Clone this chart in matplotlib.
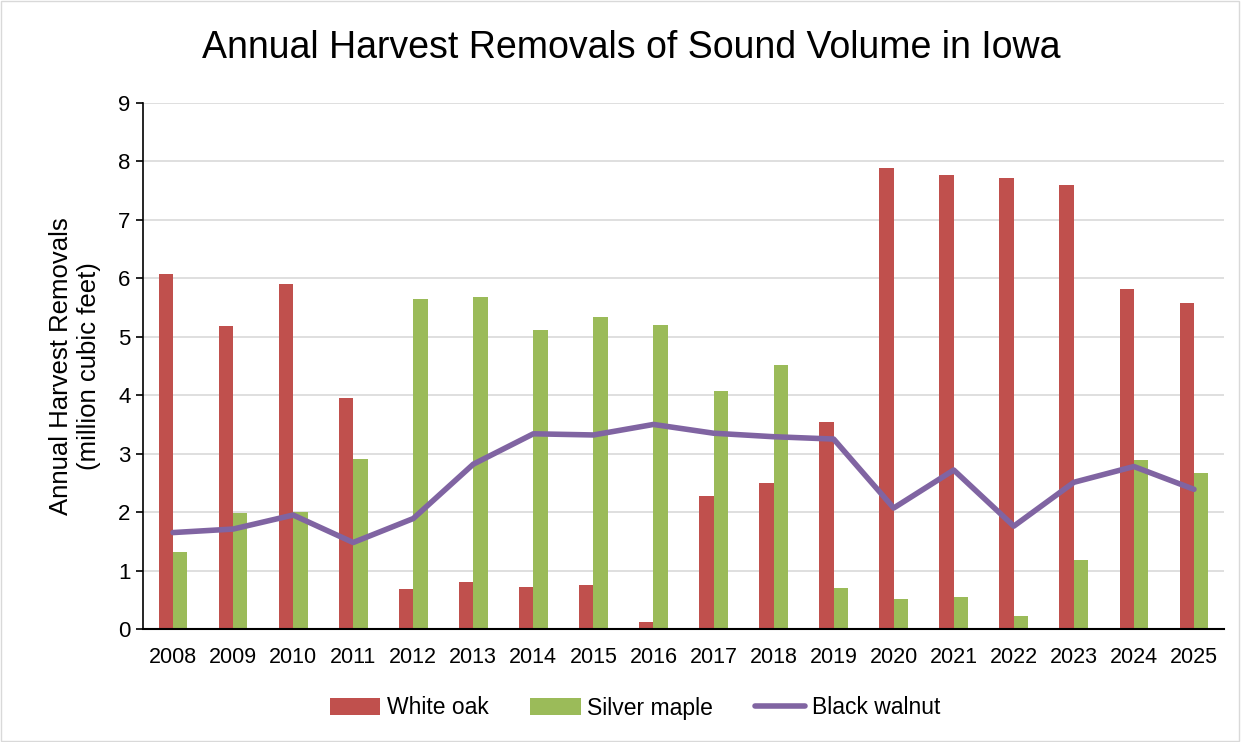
import numpy as np
from matplotlib import pyplot as plt
from matplotlib.patches import Rectangle

plt.rcParams['font.family'] = ['Liberation Sans', 'DejaVu Sans']

anos = ['2008', '2009', '2010', '2011', '2012', '2013', '2014', '2015', '2016',
        '2017', '2018', '2019', '2020', '2021', '2022', '2023', '2024', '2025']
white_oak = [6.07, 5.19, 5.90, 3.95, 0.68, 0.81, 0.72, 0.75, 0.12,
             2.28, 2.50, 3.55, 7.88, 7.77, 7.72, 7.59, 5.81, 5.58]
silver_maple = [1.31, 1.98, 2.00, 2.91, 5.65, 5.68, 5.11, 5.33, 5.20,
                4.08, 4.52, 0.71, 0.52, 0.54, 0.22, 1.18, 2.90, 2.67]
black_walnut = [1.65, 1.71, 1.95, 1.48, 1.89, 2.82, 3.34, 3.32, 3.50,
                3.35, 3.29, 3.25, 2.07, 2.72, 1.76, 2.51, 2.78, 2.39]

x = np.arange(len(anos))
w = 0.24

fig = plt.figure(figsize=(12.41, 7.42), dpi=100)
ax = fig.add_axes([143/1241, 1 - 629/742, 1081/1241, 526/742])

b1 = ax.bar(x - w/2, white_oak, w, color='#c0504d', label='White oak', zorder=2)
b2 = ax.bar(x + w/2, silver_maple, w, color='#9bbb59', label='Silver maple', zorder=2)
l1, = ax.plot(x, black_walnut, color='#8064a2', lw=4, label='Black walnut', zorder=3,
              solid_joinstyle='round', solid_capstyle='round')

ax.set_xlim(-0.5, len(anos) - 0.5)
ax.set_ylim(0, 9)
ax.set_yticks(range(0, 10))
ax.set_xticks(x)
ax.set_xticklabels(anos)
ax.tick_params(axis='x', length=0, labelsize=15.5, pad=13)
ax.tick_params(axis='y', length=5, width=1.2, labelsize=16, pad=4, direction='out')
ax.grid(axis='y', color='#d9d9d9', lw=1.2, zorder=0)
ax.set_axisbelow(True)
for s in ['top', 'right']:
    ax.spines[s].set_visible(False)
ax.spines['left'].set_color('black')
ax.spines['bottom'].set_color('black')
ax.spines['left'].set_linewidth(1.2)
ax.spines['bottom'].set_linewidth(1.5)

ax.set_ylabel('Annual Harvest Removals\n(million cubic feet)', fontsize=18.5, labelpad=12,
              linespacing=1.25)
fig.text(631/1241, 1 - 48/742, 'Annual Harvest Removals of Sound Volume in Iowa',
         ha='center', va='center', fontsize=27)

fig.legend([b1, b2, l1], ['White oak', 'Silver maple', 'Black walnut'],
           loc='center', bbox_to_anchor=(635/1241, 1 - 708/742), ncol=3, frameon=False,
           fontsize=16.5, handlelength=2.2, handleheight=0.7, columnspacing=1.8,
           handletextpad=0.3)

fig.patches.append(Rectangle((0.001, 0.001), 0.997, 0.997, transform=fig.transFigure,
                             fill=False, edgecolor='#d9d9d9', lw=1))

plt.savefig('out.png', dpi=100)
